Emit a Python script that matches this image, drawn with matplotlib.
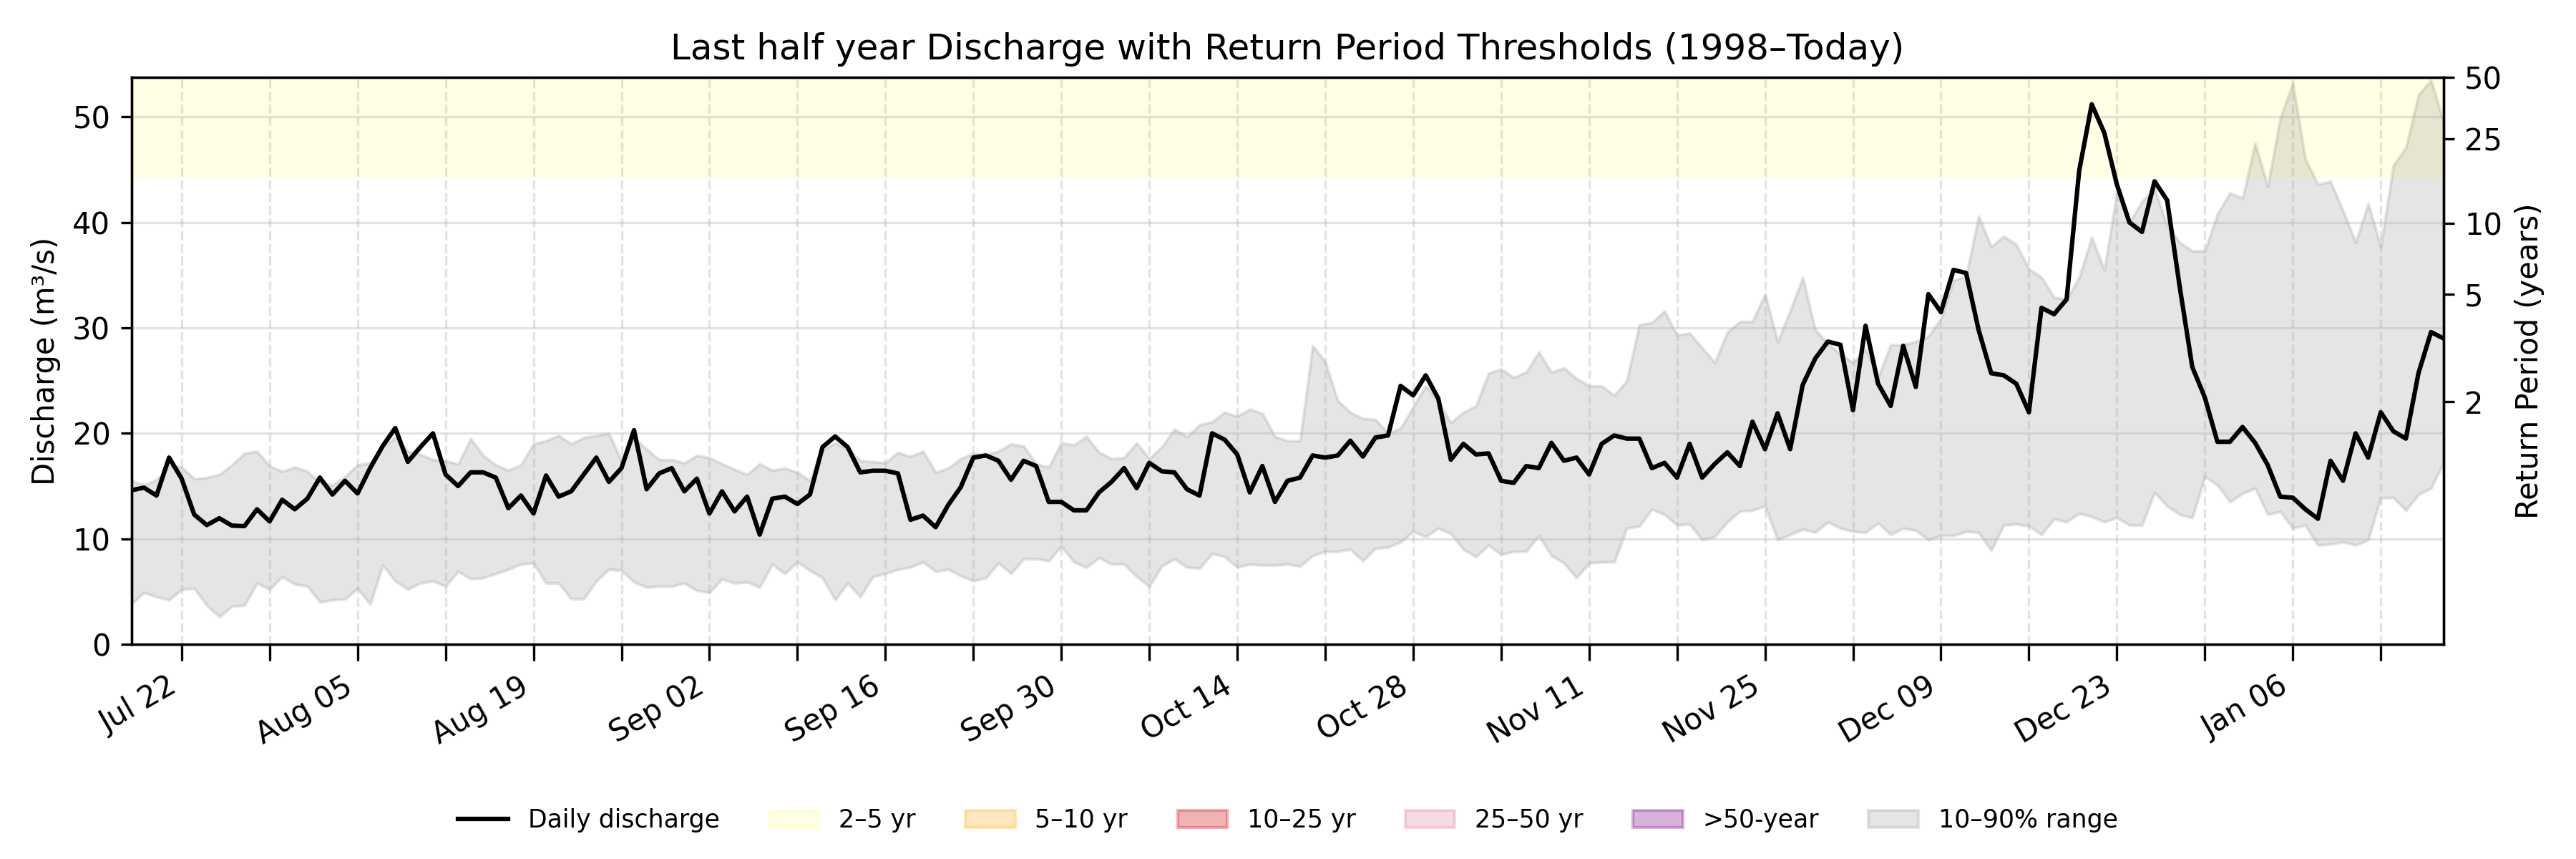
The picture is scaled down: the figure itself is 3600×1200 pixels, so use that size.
import numpy as np
import pandas as pd
import matplotlib
matplotlib.use('Agg')
import matplotlib.pyplot as plt
import matplotlib.dates as mdates
import matplotlib.patches as mpatches
from matplotlib.lines import Line2D

# ---------------------------------------------------------------------------
# Data
# ---------------------------------------------------------------------------
dates = pd.date_range('2024-07-18', periods=185, freq='D')

discharge = [
    14.6, 14.85, 14.1, 17.7, 15.7, 12.3, 11.3, 11.95, 11.25, 11.2,
    12.8, 11.65, 13.7, 12.8, 13.8, 15.8, 14.2, 15.5, 14.3, 16.7,
    18.8, 20.5, 17.3, 18.7, 20.0, 16.1, 15.0, 16.3, 16.3, 15.8,
    12.9, 14.1, 12.4, 16.0, 14.0, 14.5, 16.1, 17.7, 15.4, 16.7,
    20.3, 14.7, 16.2, 16.7, 14.5, 15.7, 12.4, 14.5, 12.6, 14.0,
    10.4, 13.8, 14.0, 13.3, 14.2, 18.7, 19.7, 18.7, 16.3, 16.45,
    16.45, 16.2, 11.8, 12.2, 11.1, 13.2, 14.9, 17.7, 17.9, 17.4,
    15.6, 17.4, 16.9, 13.5, 13.5, 12.7, 12.7, 14.4, 15.4, 16.7,
    14.8, 17.2, 16.4, 16.3, 14.7, 14.1, 20.0, 19.4, 18.0, 14.4,
    16.9, 13.5, 15.5, 15.8, 17.9, 17.7, 17.9, 19.3, 17.8, 19.6,
    19.8, 24.5, 23.6, 25.5, 23.3, 17.5, 19.0, 18.0, 18.1, 15.5,
    15.3, 16.9, 16.7, 19.1, 17.4, 17.7, 16.1, 19.0, 19.8, 19.5,
    19.5, 16.7, 17.2, 15.8, 19.0, 15.8, 17.1, 18.2, 16.9, 21.1,
    18.5, 21.9, 18.5, 24.6, 27.1, 28.7, 28.4, 22.2, 30.2, 24.7,
    22.6, 28.3, 24.4, 33.2, 31.5, 35.5, 35.2, 29.8, 25.7, 25.5,
    24.7, 22.0, 31.9, 31.3, 32.7, 44.9, 51.2, 48.5, 43.6, 40.0,
    39.1, 43.9, 42.1, 33.9, 26.3, 23.4, 19.2, 19.2, 20.6, 19.1,
    17.0, 14.0, 13.9, 12.8, 11.9, 17.4, 15.5, 20.0, 17.7, 22.0,
    20.2, 19.5, 25.7, 29.6, 29.0,
]

# historical 90th percentile for each calendar day (1998-today)
p90 = [
    15.5, 15.1, 15.6, 16.9, 16.8, 15.7, 15.8, 16.1, 17.0, 18.1,
    18.3, 16.9, 16.4, 16.8, 16.4, 15.3, 15.1, 15.9, 17.0, 17.2,
    18.7, 19.6, 18.3, 18.0, 17.5, 17.4, 17.1, 19.5, 17.9, 17.0,
    16.5, 17.0, 19.0, 19.3, 19.8, 19.0, 19.6, 19.8, 20.0, 17.4,
    19.6, 18.5, 17.5, 17.5, 17.2, 17.9, 17.7, 17.1, 16.6, 16.1,
    17.1, 16.5, 16.7, 16.3, 15.5, 18.4, 19.1, 18.5, 17.4, 17.3,
    17.2, 18.2, 17.8, 18.3, 16.3, 16.7, 17.6, 18.1, 18.0, 18.3,
    19.0, 18.8, 17.1, 16.8, 19.1, 18.9, 19.7, 18.2, 17.6, 17.7,
    19.1, 17.6, 18.7, 20.4, 19.7, 20.8, 21.1, 22.0, 21.6, 22.3,
    21.9, 19.7, 19.3, 19.3, 28.3, 26.8, 23.1, 22.0, 21.4, 21.3,
    20.0, 20.5, 22.5, 24.5, 23.0, 21.0, 22.0, 22.6, 25.7, 26.1,
    25.3, 25.8, 27.7, 25.8, 26.2, 25.2, 24.5, 24.5, 23.6, 25.0,
    30.3, 30.5, 31.6, 29.3, 29.5, 28.1, 26.7, 29.6, 30.6, 30.6,
    33.2, 28.7, 31.6, 34.8, 29.8, 28.5, 27.5, 26.7, 28.0, 25.3,
    28.4, 28.4, 28.7, 29.2, 30.9, 34.5, 34.9, 40.6, 37.7, 38.7,
    37.9, 35.6, 34.8, 32.9, 32.7, 34.8, 38.6, 35.5, 42.8, 40.0,
    42.0, 43.2, 39.7, 38.1, 37.3, 37.3, 40.8, 42.8, 42.3, 47.5,
    43.4, 49.9, 53.2, 46.0, 43.6, 43.9, 41.1, 38.1, 41.8, 37.7,
    45.4, 47.1, 52.1, 53.5, 49.5,
]

# historical 10th percentile for each calendar day
p10 = [
    3.8, 4.9, 4.5, 4.2, 5.2, 5.3, 3.7, 2.6, 3.6, 3.7,
    5.8, 5.2, 6.4, 5.7, 5.5, 4.0, 4.2, 4.3, 5.3, 3.8,
    7.5, 6.0, 5.2, 5.8, 6.0, 5.5, 6.9, 6.2, 6.3, 6.7,
    7.1, 7.6, 7.7, 5.8, 5.8, 4.3, 4.3, 6.0, 7.1, 7.0,
    5.9, 5.4, 5.5, 5.5, 5.8, 5.1, 4.9, 6.2, 5.8, 5.9,
    5.4, 7.6, 6.7, 7.8, 7.0, 6.3, 4.2, 5.8, 4.5, 6.4,
    6.7, 7.1, 7.3, 7.8, 6.9, 7.1, 6.5, 6.0, 6.3, 7.7,
    6.7, 8.1, 8.1, 7.9, 9.3, 7.8, 7.3, 8.2, 7.6, 7.6,
    6.4, 5.5, 7.4, 8.1, 7.3, 7.2, 8.6, 8.3, 7.3, 7.6,
    7.5, 7.5, 7.6, 7.4, 8.4, 8.8, 8.8, 9.0, 7.9, 9.1,
    9.2, 9.7, 10.7, 10.2, 11.0, 10.5, 9.0, 8.3, 9.4, 8.5,
    8.8, 8.8, 10.3, 8.4, 7.7, 6.3, 7.7, 7.8, 7.8, 11.0,
    11.2, 12.8, 12.3, 11.3, 11.4, 9.9, 10.2, 11.6, 12.6, 12.7,
    13.1, 9.9, 10.4, 10.9, 10.6, 11.6, 11.0, 10.7, 10.6, 11.5,
    10.4, 11.0, 10.8, 9.9, 10.3, 10.3, 10.7, 10.6, 8.9, 11.3,
    11.4, 11.2, 10.4, 11.9, 11.6, 12.4, 12.1, 11.6, 12.0, 11.3,
    11.3, 14.4, 13.1, 12.3, 12.0, 15.9, 15.1, 13.5, 14.3, 14.8,
    12.3, 12.6, 11.0, 11.3, 9.4, 9.5, 9.7, 9.4, 9.9, 13.9,
    13.9, 12.7, 14.2, 14.8, 17.2,
]

# return period axis: discharge value belonging to each return period
rp_years = [2, 5, 10, 25, 50]
rp_discharge = [23.0, 33.2, 39.9, 47.9, 53.76]

# return period bands (only the 2-5 yr band falls inside the plotted range)
band_labels = ['2–5 yr', '5–10 yr', '10–25 yr', '25–50 yr', '>50-year']
band_colors = ['yellow', 'orange', 'tab:red', 'palevioletred', 'purple']
band_alphas = [0.1, 0.25, 0.35, 0.25, 0.3]
band_lower = [44.2]

# ---------------------------------------------------------------------------
# Plot
# ---------------------------------------------------------------------------
fig, ax = plt.subplots(figsize=(12, 4), dpi=300)
fig.subplots_adjust(left=0.051, right=0.9486, top=0.91, bottom=0.25)

y_top = max(discharge) * 1.05

for lo, c, a in zip(band_lower, band_colors, band_alphas):
    ax.axhspan(lo, y_top + 10, color=c, alpha=a, lw=0)

ax.fill_between(dates, p10, p90, color='gray', alpha=0.2)
ax.plot(dates, discharge, color='black', lw=1.5)

ax.set_xlim(dates[0], dates[-1])
ax.set_ylim(0, y_top)
ax.set_ylabel('Discharge (m³/s)')
ax.set_title('Last half year Discharge with Return Period Thresholds (1998–Today)')

# weekly ticks, label every second week
ax.xaxis.set_major_locator(mdates.WeekdayLocator(byweekday=mdates.MO, interval=1))
first_tick = mdates.date2num(pd.Timestamp('2024-07-22'))


def fmt_date(x, pos=None):
    if int(round(x - first_tick)) % 14 == 0:
        return mdates.num2date(x).strftime('%b %d')
    return ''


ax.xaxis.set_major_formatter(plt.FuncFormatter(fmt_date))
ax.tick_params(axis='x', length=5.5)
plt.setp(ax.get_xticklabels(), rotation=30, ha='right')

ax.grid(True, axis='y', alpha=0.35)
ax.grid(True, axis='x', linestyle='--', alpha=0.35)

# return period axis
ax2 = ax.twinx()
ax2.set_ylim(ax.get_ylim())
ax2.set_yticks(rp_discharge)
ax2.set_yticklabels([str(r) for r in rp_years])
ax2.set_ylabel('Return Period (years)')

# legend below the plot
handles = [Line2D([0], [0], color='black', lw=1.5, label='Daily discharge')]
for lab, c, a in zip(band_labels, band_colors, band_alphas):
    handles.append(mpatches.Patch(color=c, alpha=a, label=lab))
handles.append(mpatches.Patch(color='gray', alpha=0.2, label='10–90% range'))
fig.legend(handles=handles, loc='center', bbox_to_anchor=(0.5, 0.045),
           ncol=7, frameon=False, fontsize='small')

plt.savefig('out.png', dpi=300)
plt.close()
